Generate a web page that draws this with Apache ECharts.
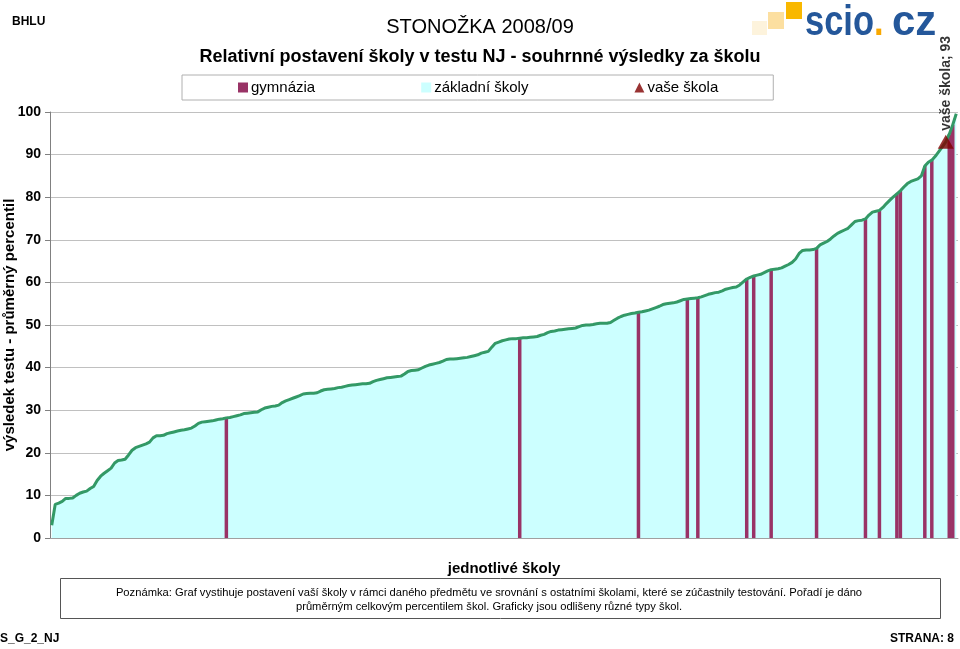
<!DOCTYPE html>
<html>
<head>
<meta charset="utf-8">
<script src="https://cdn.jsdelivr.net/npm/echarts@6/dist/echarts.min.js"></script>
<style>
html,body{margin:0;padding:0;background:#fff;}
#chart{width:960px;height:649px;}
</style>
</head>
<body>
<div id="chart"></div>
<script>
// Average percentile of every school, sorted ascending
var schoolValues = [
  3.0, 7.9, 8.2, 8.6, 9.3, 9.3, 9.4, 10.0, 10.5, 10.8,
  11.0, 11.6, 12.1, 13.5, 14.5, 15.2, 15.8, 16.4, 17.6, 18.2,
  18.3, 18.5, 19.5, 20.6, 21.2, 21.5, 21.8, 22.1, 22.5, 23.5,
  24.0, 24.0, 24.1, 24.5, 24.7, 24.9, 25.1, 25.3, 25.4, 25.6,
  25.8, 26.3, 26.9, 27.2, 27.3, 27.4, 27.5, 27.7, 27.9, 28.0,
  28.2, 28.3, 28.5, 28.7, 28.9, 29.2, 29.3, 29.4, 29.5, 29.6,
  30.1, 30.5, 30.7, 30.9, 31.0, 31.2, 31.8, 32.2, 32.5, 32.8,
  33.1, 33.4, 33.8, 33.9, 34.0, 34.0, 34.1, 34.5, 34.8, 34.9,
  35.0, 35.1, 35.3, 35.4, 35.6, 35.8, 35.9, 36.0, 36.1, 36.2,
  36.2, 36.3, 36.7, 37.0, 37.2, 37.4, 37.6, 37.7, 37.8, 37.9,
  38.0, 38.5, 39.1, 39.3, 39.4, 39.5, 39.9, 40.3, 40.6, 40.8,
  41.0, 41.2, 41.5, 41.9, 42.0, 42.0, 42.1, 42.2, 42.3, 42.4,
  42.6, 42.8, 43.0, 43.4, 43.6, 43.8, 44.8, 45.7, 46.0, 46.3,
  46.5, 46.7, 46.8, 46.8, 46.9, 47.0, 47.0, 47.1, 47.2, 47.3,
  47.6, 47.8, 48.2, 48.5, 48.6, 48.8, 48.9, 49.0, 49.1, 49.2,
  49.3, 49.6, 49.9, 50.0, 50.0, 50.1, 50.3, 50.4, 50.4, 50.4,
  50.6, 51.1, 51.6, 52.0, 52.3, 52.5, 52.7, 52.8, 53.0, 53.1,
  53.3, 53.5, 53.8, 54.1, 54.4, 54.8, 55.0, 55.1, 55.2, 55.4,
  55.7, 56.0, 56.1, 56.2, 56.3, 56.4, 56.6, 56.9, 57.2, 57.4,
  57.6, 57.7, 58.0, 58.4, 58.6, 58.8, 58.9, 59.4, 60.1, 60.8,
  61.2, 61.5, 61.7, 61.9, 62.3, 62.7, 63.0, 63.1, 63.2, 63.4,
  63.8, 64.2, 64.7, 65.5, 66.8, 67.5, 67.6, 67.6, 67.7, 68.0,
  68.8, 69.2, 69.6, 70.2, 70.9, 71.5, 71.9, 72.3, 72.7, 73.5,
  74.3, 74.5, 74.6, 74.9, 75.8, 76.5, 76.7, 76.9, 77.6, 78.5,
  79.3, 80.1, 80.8, 81.5, 82.4, 83.2, 83.7, 84.0, 84.3, 85.0,
  87.3, 88.2, 88.7, 89.6, 90.7, 91.8, 93.0, 94.8, 97.0, 99.6
];
// Positions (rank index) of the schools that are gymnázia
var gymnaziaIndex = [50, 134, 168, 182, 185, 199, 201, 206, 219, 233, 237, 242, 243, 250, 252, 257, 258];
// Your school
var yourSchoolIndex = 256;
var yourSchoolValue = 93;
var yTicks = [0, 10, 20, 30, 40, 50, 60, 70, 80, 90, 100];

var categories = schoolValues.map(function (v, i) { return String(i + 1); });
var barData = schoolValues.map(function (v, i) { return gymnaziaIndex.indexOf(i) >= 0 ? v : '-'; });

var FONT = "'Liberation Sans', Arial, sans-serif";
var chart = echarts.init(document.getElementById('chart'), null, {renderer: 'canvas'});

chart.setOption({
  animation: false,
  backgroundColor: '#ffffff',
  textStyle: {fontFamily: FONT},
  title: [
    {text: 'STONOŽKA 2008/09', left: 'center', top: 12,
     textStyle: {fontFamily: FONT, fontSize: 20, fontWeight: 'normal', color: '#000'}},
    {text: 'Relativní postavení školy v testu NJ - souhrnné výsledky za školu', left: 'center', top: 43,
     textStyle: {fontFamily: FONT, fontSize: 18, fontWeight: 'bold', color: '#000'}}
  ],
  legend: {
    left: 182, top: 75,
    padding: [5, 55, 5, 56],
    borderColor: '#b0b0b0', borderWidth: 1,
    itemGap: 106, itemWidth: 10, itemHeight: 10,
    textStyle: {fontFamily: FONT, fontSize: 15, color: '#000', padding: [0, 0, 0, -2]},
    data: [
      {name: 'gymnázia', icon: 'rect'},
      {name: 'základní školy', icon: 'rect', itemStyle: {color: '#CCFFFF'}},
      {name: 'vaše škola', icon: 'triangle', itemStyle: {color: '#800000'}}
    ]
  },
  grid: {left: 50, right: 2, top: 112, bottom: 111, containLabel: false, outerBoundsMode: 'none'},
  xAxis: {
    type: 'category', data: categories, boundaryGap: true,
    name: 'jednotlivé školy', nameLocation: 'middle', nameGap: 23,
    nameTextStyle: {fontFamily: FONT, fontSize: 15, fontWeight: 'bold', color: '#000'},
    axisLine: {lineStyle: {color: '#a0a0a0', width: 1}},
    axisTick: {show: false}, axisLabel: {show: false}, splitLine: {show: false}
  },
  yAxis: {
    type: 'value', min: yTicks[0], max: yTicks[yTicks.length - 1], interval: 10,
    axisLine: {show: true, lineStyle: {color: '#808080', width: 1}},
    axisTick: {show: true, length: 5, lineStyle: {color: '#808080'}},
    axisLabel: {fontFamily: FONT, fontSize: 14, fontWeight: 'bold', color: '#000', margin: 9},
    splitLine: {show: true, lineStyle: {color: '#c0c0c0', width: 1}}
  },
  series: [
    {
      name: 'základní školy', type: 'line', data: schoolValues, z: 1,
      symbol: 'none', lineStyle: {width: 0}, itemStyle: {color: '#CCFFFF'},
      areaStyle: {color: '#CCFFFF', opacity: 1}
    },
    {
      name: 'gymnázia', type: 'bar', data: barData, z: 2,
      barCategoryGap: '0%', itemStyle: {color: '#993366'}
    },
    {
      name: 'line', type: 'line', data: schoolValues, z: 3,
      symbol: 'none', lineStyle: {color: '#339966', width: 3}
    },
    {
      name: 'vaše škola', type: 'scatter', data: [[yourSchoolIndex, yourSchoolValue]], z: 4,
      symbol: 'triangle', symbolSize: [16, 14], itemStyle: {color: '#800000'},
      label: {
        show: true, position: 'top', rotate: 90, align: 'left', verticalAlign: 'middle', distance: 4,
        formatter: 'vaše škola; ' + yourSchoolValue,
        fontFamily: FONT, fontSize: 14, fontWeight: 'bold', color: '#000'
      }
    }
  ],
  graphic: [
    {type: 'text', left: 12, top: 16, style: {text: 'BHLU', font: 'bold 12px ' + FONT, fill: '#000'}},
    // y axis title
    {type: 'text', x: 10, y: 325, rotation: Math.PI / 2,
     style: {text: 'výsledek testu - průměrný percentil', font: 'bold 15px ' + FONT, fill: '#000', align: 'center', verticalAlign: 'middle'}},
    // logo
    {type: 'rect', shape: {x: 752, y: 21, width: 15, height: 14}, style: {fill: '#FDF3DC'}},
    {type: 'rect', shape: {x: 768, y: 12, width: 16, height: 17}, style: {fill: '#FCDFA0'}},
    {type: 'rect', shape: {x: 786, y: 2, width: 16, height: 17}, style: {fill: '#F9B800'}},
    {type: 'text', x: 805, y: 44, scaleX: 0.82, style: {text: 'scio', font: 'bold 42px ' + FONT, fill: '#24579A', verticalAlign: 'bottom'}},
    {type: 'text', x: 874, y: 44, scaleX: 0.82, style: {text: '.', font: 'bold 42px ' + FONT, fill: '#F9A800', verticalAlign: 'bottom'}},
    {type: 'text', x: 892, y: 44, scaleX: 1.0, style: {text: 'cz', font: 'bold 42px ' + FONT, fill: '#24579A', verticalAlign: 'bottom'}},
    // note box
    {type: 'rect', shape: {x: 60.5, y: 578.5, width: 880, height: 40}, style: {fill: '#fff', stroke: '#555', lineWidth: 1}},
    {type: 'text', x: 489, y: 586,
     style: {text: 'Poznámka: Graf vystihuje postavení vaší školy v rámci daného předmětu ve srovnání s ostatními školami, které se zúčastnily testování. Pořadí je dáno\nprůměrným celkovým percentilem škol. Graficky jsou odlišeny různé typy škol.',
             font: '11.2px ' + FONT, fill: '#000', align: 'center', textAlign: 'center', lineHeight: 14}},
    {type: 'text', left: 0, top: 633, style: {text: 'S_G_2_NJ', font: 'bold 12px ' + FONT, fill: '#000'}},
    {type: 'text', right: 6, top: 633, style: {text: 'STRANA: 8', font: 'bold 12px ' + FONT, fill: '#000'}}
  ]
});
</script>
</body>
</html>
